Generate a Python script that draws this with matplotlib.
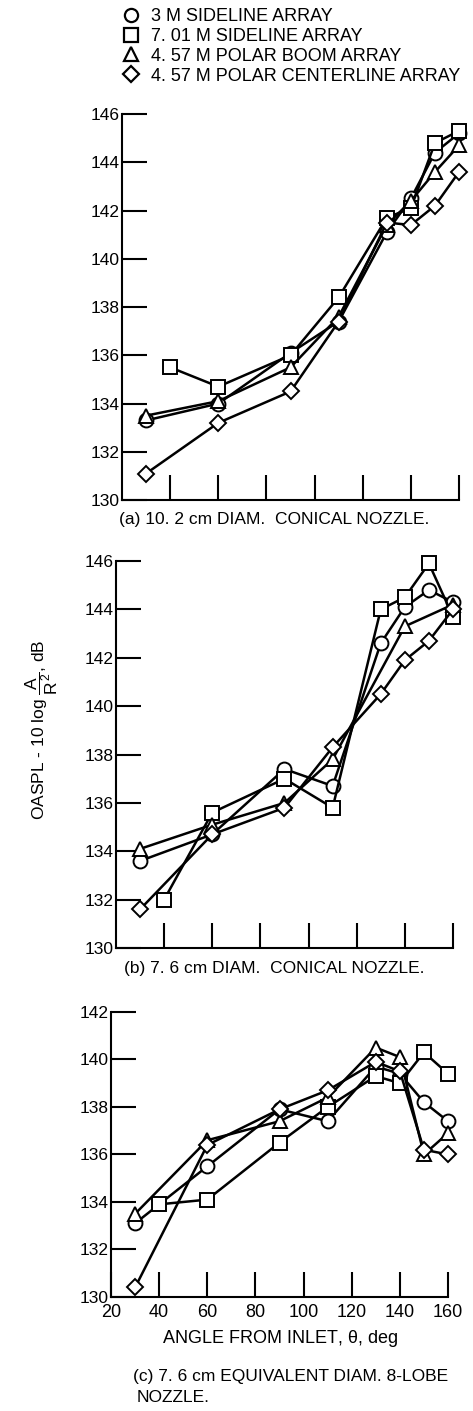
import numpy as np
import matplotlib
matplotlib.use('Agg')
import matplotlib.pyplot as plt
from matplotlib.lines import Line2D

plt.rcParams['font.family'] = ['Liberation Sans', 'DejaVu Sans']
plt.rcParams['mathtext.fontset'] = 'custom'
plt.rcParams['mathtext.rm'] = 'Liberation Sans'
plt.rcParams['mathtext.it'] = 'Liberation Sans'

labels = ['3 M SIDELINE ARRAY', '7. 01 M SIDELINE ARRAY',
          '4. 57 M POLAR BOOM ARRAY', '4. 57 M POLAR CENTERLINE ARRAY']
markers = ['o', 's', '^', 'D']

ang = [30, 60, 90, 110, 130, 140, 150, 160]
ang_sq = [40, 60, 90, 110, 130, 140, 150, 160]
ang_b_tri = [30, 60, 90, 110, 140, 160]

# (a) 10.2 cm conical nozzle
a_circ = [133.3, 134.0, 136.1, 137.4, 141.1, 142.5, 144.4, 145.2]
a_sq = [135.5, 134.7, 136.0, 138.4, 141.7, 142.1, 144.8, 145.3]
a_tri = [133.5, 134.1, 135.5, 137.6, 141.4, 142.4, 143.6, 144.7]
a_dia = [131.1, 133.2, 134.5, 137.4, 141.5, 141.4, 142.2, 143.6]

# (b) 7.6 cm conical nozzle
b_circ = [133.6, 134.7, 137.4, 136.7, 142.6, 144.1, 144.8, 144.3]
b_sq = [132.0, 135.6, 137.0, 135.8, 144.0, 144.5, 145.9, 143.7]
b_tri = [134.1, 135.1, 136.0, 137.8, 143.3, 144.2]
b_dia = [131.6, 134.7, 135.8, 138.3, 140.5, 141.9, 142.7, 144.0]

# (c) 7.6 cm equivalent diam 8-lobe nozzle
c_circ = [133.1, 135.5, 137.9, 137.4, 139.7, 139.4, 138.2, 137.4]
c_sq = [133.9, 134.1, 136.5, 138.0, 139.3, 139.0, 140.3, 139.4]
c_tri = [133.5, 136.6, 137.4, 138.4, 140.5, 140.1, 136.0, 136.9]
c_dia = [130.4, 136.4, 137.9, 138.7, 139.9, 139.5, 136.2, 136.0]

fig = plt.figure(figsize=(4.73, 14.11), dpi=100)

def msize(m):
    return 8.2 if m == 'D' else 10

def panel(rect, series, ylim, yticks, xlabels):
    ax = fig.add_axes(rect)
    for (x, y), m in zip(series, markers):
        ax.plot(x, y, color='black', lw=1.8, marker=m, ms=msize(m),
                mfc='white', mec='black', mew=1.4, clip_on=False, zorder=3)
    ax.set_xlim(20, 160)
    ax.set_ylim(*ylim)
    ax.set_yticks(yticks)
    ax.set_xticks(range(40, 161, 20))
    ax.spines['top'].set_visible(False)
    ax.spines['right'].set_visible(False)
    for s in ['left', 'bottom']:
        ax.spines[s].set_linewidth(1.5)
    ax.tick_params(direction='in', length=18, width=1.5, labelsize=12.5, pad=2)
    if xlabels:
        ax.set_xticks(range(20, 161, 20))
        ax.tick_params(axis='x', labelsize=13, pad=5)
    else:
        ax.set_xticklabels([])
    return ax

ax_a = panel([0.258, 0.6456, 0.7125, 0.2736],
             [(ang, a_circ), (ang_sq, a_sq), (ang, a_tri), (ang, a_dia)],
             (130, 146), range(130, 147, 2), False)
ax_b = panel([0.2452, 0.3281, 0.7125, 0.2743],
             [(ang, b_circ), (ang_sq, b_sq), (ang_b_tri, b_tri), (ang, b_dia)],
             (130, 146), range(130, 147, 2), False)
ax_c = panel([0.2347, 0.0808, 0.7125, 0.2020],
             [(ang, c_circ), (ang_sq, c_sq), (ang, c_tri), (ang, c_dia)],
             (130, 142), range(130, 143, 2), True)

ax_c.set_xlabel(r'ANGLE FROM INLET, $\theta$, deg', fontsize=13, labelpad=5)

fig.text(274 / 473, 1 - 520 / 1411, '(a) 10. 2 cm DIAM.  CONICAL NOZZLE.',
         ha='center', va='center', fontsize=12.5)
fig.text(274 / 473, 1 - 968 / 1411, '(b) 7. 6 cm DIAM.  CONICAL NOZZLE.',
         ha='center', va='center', fontsize=12.5)
fig.text(133 / 473, 1 - 1376 / 1411, '(c) 7. 6 cm EQUIVALENT DIAM. 8-LOBE',
         ha='left', va='center', fontsize=12.5)
fig.text(137 / 473, 1 - 1397 / 1411, 'NOZZLE.',
         ha='left', va='center', fontsize=12.5)

fig.text(42 / 473, 1 - 730 / 1411, r'OASPL - 10 log $\dfrac{A}{R^2}$, dB',
         rotation=90, ha='center', va='center', fontsize=12.5)

handles = [Line2D([], [], ls='none', marker=m, ms=msize(m) - 0.5,
                  mfc='white', mec='black', mew=1.6) for m in markers]
fig.legend(handles, labels, loc='upper left',
           bbox_to_anchor=(124 / 473, 1 - 8 / 1411), frameon=False,
           fontsize=13, handlelength=0.8, handletextpad=0.7,
           labelspacing=0.16, borderpad=0, borderaxespad=0)

fig.savefig('out.png', dpi=100)
